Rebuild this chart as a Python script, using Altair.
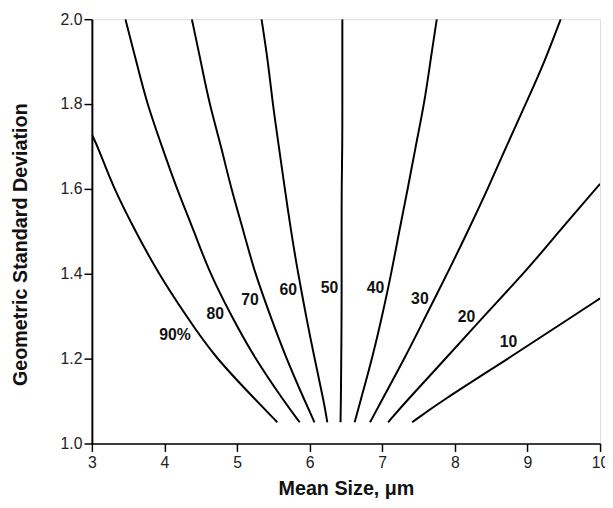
import altair as alt
import pandas as pd

# y levels (Geometric Standard Deviation) at which curve positions were read
y_levels = [2.0, 1.898, 1.805, 1.698, 1.605, 1.498, 1.405, 1.298, 1.205, 1.098, 1.05]

# Mean size (um) of each curve at those levels
c90_x = [3.0, 3.086, 3.290, 3.607, 3.901, 4.309, 4.685, 5.283, 5.554]
c90_y = [1.728, 1.698, 1.605, 1.498, 1.405, 1.298, 1.205, 1.098, 1.05]
c80_x = [3.462, 3.616, 3.752, 3.969, 4.159, 4.413, 4.613, 4.929, 5.228, 5.653, 5.862]
c70_x = [4.377, 4.504, 4.612, 4.784, 4.911, 5.093, 5.238, 5.464, 5.667, 5.939, 6.066]
c60_x = [5.337, 5.428, 5.487, 5.577, 5.654, 5.745, 5.836, 5.953, 6.061, 6.197, 6.243]
c50_x = [6.45, 6.45, 6.45, 6.45, 6.44, 6.44, 6.44, 6.44, 6.435, 6.43, 6.425]
c40_x = [7.751, 7.660, 7.583, 7.457, 7.357, 7.230, 7.130, 6.995, 6.868, 6.696, 6.619]
c30_x = [9.458, 9.232, 8.988, 8.703, 8.466, 8.172, 7.909, 7.592, 7.321, 6.981, 6.832]
c20_x = [10.0, 9.427, 8.974, 8.385, 7.900, 7.321, 7.080]
c20_y = [1.612, 1.498, 1.405, 1.298, 1.205, 1.098, 1.05]
c10_x = [10.0, 9.608, 8.779, 7.796, 7.412]
c10_y = [1.342, 1.298, 1.205, 1.098, 1.05]

label_text = ["90%", "80", "70", "60", "50", "40", "30", "20", "10"]
label_x = [4.144, 4.70, 5.177, 5.706, 6.272, 6.906, 7.518, 8.16, 8.74]
label_y = [1.256, 1.305, 1.339, 1.362, 1.367, 1.366, 1.341, 1.298, 1.24]

x_ticks = [3, 4, 5, 6, 7, 8, 9, 10]
y_ticks = [1.0, 1.2, 1.4, 1.6, 1.8, 2.0]

series = {
    "90": (c90_x, c90_y),
    "80": (c80_x, y_levels),
    "70": (c70_x, y_levels),
    "60": (c60_x, y_levels),
    "50": (c50_x, y_levels),
    "40": (c40_x, y_levels),
    "30": (c30_x, y_levels),
    "20": (c20_x, c20_y),
    "10": (c10_x, c10_y),
}
rows = []
for name, (xs, ys) in series.items():
    for i, (xv, yv) in enumerate(zip(xs, ys)):
        rows.append({"curve": name, "x": xv, "y": yv, "idx": i})
df = pd.DataFrame(rows)

labels = pd.DataFrame({"t": label_text, "x": label_x, "y": label_y})

FONT = "Liberation Sans"

xscale = alt.Scale(domain=[3, 10], nice=False, zero=False)
yscale = alt.Scale(domain=[1.0, 2.0], nice=False, zero=False)

lines = alt.Chart(df).mark_line(
    color="black", strokeWidth=2, interpolate="basis", clip=True
).encode(
    x=alt.X("x:Q", scale=xscale, axis=alt.Axis(
        values=x_ticks, format="d", title="Mean Size, \u03bcm",
        tickSize=8, labelPadding=3, labelFontSize=16, labelFont=FONT,
        labelColor="#222", titleFont=FONT, titleFontSize=20, titleFontWeight="bold",
        titleColor="#111", titleX=257.5, titleY=46, titleBaseline="middle",
        titleAlign="center", domainColor="black", domainWidth=1.5,
        tickColor="black", tickWidth=1.5, grid=False, labelFlush=False)),
    y=alt.Y("y:Q", scale=yscale, axis=alt.Axis(
        values=y_ticks, format=".1f", title="Geometric Standard Deviation",
        tickSize=8, labelPadding=2, labelFontSize=16, labelFont=FONT,
        labelColor="#222", titleFont=FONT, titleFontSize=20, titleFontWeight="bold",
        titleColor="#111", titleX=-72.5, titleY=228, titleAngle=270,
        titleBaseline="middle", titleAlign="center", domainColor="black",
        domainWidth=2, tickColor="black", tickWidth=1.5, grid=False,
        labelFlush=False)),
    detail="curve:N",
    order="idx:Q",
)

text = alt.Chart(labels).mark_text(
    font=FONT, fontSize=16, fontWeight="bold", color="#111"
).encode(x=alt.X("x:Q", scale=xscale), y=alt.Y("y:Q", scale=yscale), text="t:N")

chart = (lines + text).properties(
    width=515, height=430,
    autosize=alt.AutoSizeParams(type="none"),
    padding={"left": 85, "top": 8, "right": 5, "bottom": 60},
).configure_view(stroke="black", strokeWidth=1.5).configure(background="white")

chart.save("out.html", embed_options={"renderer": "svg", "actions": False})
